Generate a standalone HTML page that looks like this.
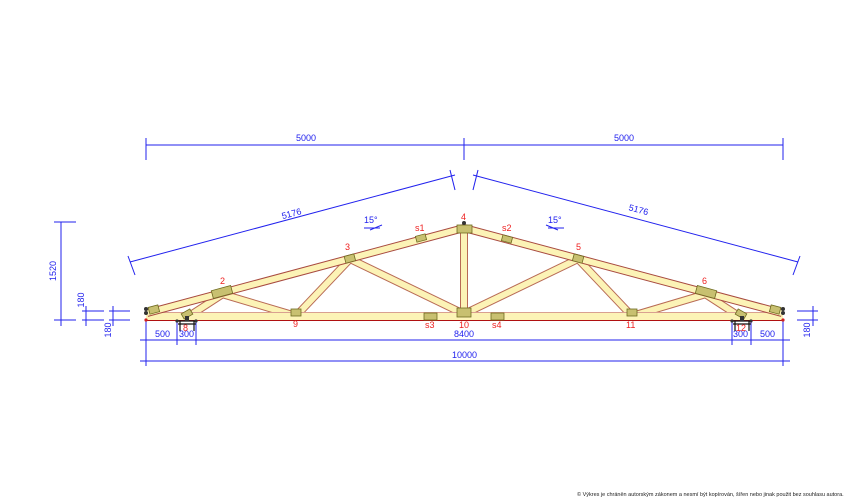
<!DOCTYPE html>
<html><head><meta charset="utf-8"><style>
html,body{margin:0;padding:0;background:#fff;}
svg{display:block;font-family:"Liberation Sans",sans-serif;}
.d{stroke:#2222ee;stroke-width:1;fill:none}
.dt{fill:#2222ee;font-size:9px}
.n{fill:#ee2020;font-size:9px}
</style></head><body>
<svg width="868" height="501" viewBox="0 0 868 501" xmlns="http://www.w3.org/2000/svg">
<g class="d">
<line x1="146" y1="145" x2="783" y2="145"/>
<line x1="146" y1="138" x2="146" y2="160"/>
<line x1="464" y1="138" x2="464" y2="160"/>
<line x1="783" y1="138" x2="783" y2="160"/>
<line x1="130" y1="262" x2="455" y2="175"/>
<line x1="128" y1="256" x2="135" y2="275"/>
<line x1="450" y1="170" x2="455" y2="190"/>
<line x1="473" y1="175" x2="798" y2="262"/>
<line x1="478" y1="170" x2="473" y2="190"/>
<line x1="800" y1="256" x2="793" y2="275"/>
<line x1="61" y1="222" x2="61" y2="326"/>
<line x1="54" y1="222" x2="76" y2="222"/>
<line x1="54" y1="320" x2="76" y2="320"/>
<line x1="86" y1="306" x2="86" y2="326"/>
<line x1="82" y1="311" x2="104" y2="311"/>
<line x1="82" y1="320" x2="104" y2="320"/>
<line x1="113" y1="306" x2="113" y2="326"/>
<line x1="109" y1="311" x2="130" y2="311"/>
<line x1="109" y1="320" x2="130" y2="320"/>
<line x1="813" y1="306" x2="813" y2="326"/>
<line x1="797" y1="311" x2="818" y2="311"/>
<line x1="797" y1="320" x2="818" y2="320"/>
<line x1="140" y1="340" x2="790" y2="340"/>
<line x1="140" y1="361" x2="790" y2="361"/>
<line x1="146" y1="320" x2="146" y2="366"/>
<line x1="783" y1="320" x2="783" y2="366"/>
<line x1="177" y1="320" x2="177" y2="345"/>
<line x1="196" y1="320" x2="196" y2="345"/>
<line x1="732" y1="320" x2="732" y2="345"/>
<line x1="751" y1="320" x2="751" y2="345"/>
<line x1="364" y1="228" x2="380" y2="228"/>
<line x1="370" y1="230" x2="382" y2="225"/>
<line x1="548" y1="228" x2="564" y2="228"/>
<line x1="546" y1="225" x2="558" y2="230"/>
</g>
<g class="dt">
<text x="296" y="141">5000</text>
<text x="614" y="141">5000</text>
<text x="281" y="217" transform="rotate(-15 290 212)">5176</text>
<text x="628" y="213" transform="rotate(15 639 212)">5176</text>
<text x="364" y="223">15°</text>
<text x="548" y="223">15°</text>
<text text-anchor="middle" transform="translate(56 271) rotate(-90)">1520</text>
<text text-anchor="middle" transform="translate(84 300) rotate(-90)">180</text>
<text text-anchor="middle" transform="translate(111 330) rotate(-90)">180</text>
<text text-anchor="middle" transform="translate(810 330) rotate(-90)">180</text>
<text x="155" y="337">500</text>
<text x="179" y="337">300</text>
<text x="454" y="337">8400</text>
<text x="733" y="337">300</text>
<text x="760" y="337">500</text>
<text x="452" y="358">10000</text>
</g>
<g stroke-linecap="butt">
<g stroke="#b86a55" stroke-width="8">
<line x1="296" y1="316" x2="350" y2="259"/>
<line x1="350" y1="259" x2="464" y2="314"/>
<line x1="464" y1="314" x2="578" y2="259"/>
<line x1="578" y1="259" x2="632" y2="316"/>
<line x1="222" y1="294" x2="296" y2="316"/>
<line x1="706" y1="294" x2="632" y2="316"/>
<line x1="186" y1="318" x2="226" y2="292"/>
<line x1="742" y1="318" x2="702" y2="292"/>
<line x1="464" y1="228" x2="464" y2="314"/>
</g>
<g stroke="#fcf3b6" stroke-width="6">
<line x1="296" y1="316" x2="350" y2="259"/>
<line x1="350" y1="259" x2="464" y2="314"/>
<line x1="464" y1="314" x2="578" y2="259"/>
<line x1="578" y1="259" x2="632" y2="316"/>
<line x1="222" y1="294" x2="296" y2="316"/>
<line x1="706" y1="294" x2="632" y2="316"/>
<line x1="186" y1="318" x2="226" y2="292"/>
<line x1="742" y1="318" x2="702" y2="292"/>
<line x1="464" y1="228" x2="464" y2="314"/>
</g>
<rect x="146" y="312" width="637" height="9" fill="#fcf3b6"/>
<line x1="146" y1="312.5" x2="783" y2="312.5" stroke="#d9a090" stroke-width="1"/>
<line x1="146" y1="320.5" x2="783" y2="320.5" stroke="#b01010" stroke-width="1"/>
<line x1="147" y1="313" x2="464" y2="228" stroke="#a84a40" stroke-width="8"/>
<line x1="464" y1="228" x2="782" y2="313" stroke="#a84a40" stroke-width="8"/>
<line x1="147" y1="313" x2="464" y2="228" stroke="#fcf3b6" stroke-width="6"/>
<line x1="464" y1="228" x2="782" y2="313" stroke="#fcf3b6" stroke-width="6"/>
</g>
<g fill="#c8c070" stroke="#6e6a20" stroke-width="0.8">
<rect x="212" y="288" width="20" height="8" transform="rotate(-15 222 292)"/>
<rect x="345" y="255" width="10" height="7" transform="rotate(-15 350 259)"/>
<rect x="416" y="235" width="10" height="6" transform="rotate(-15 421 238)"/>
<rect x="457" y="225" width="15" height="8"/>
<rect x="502" y="236" width="10" height="6" transform="rotate(15 507 239)"/>
<rect x="573" y="255" width="10" height="7" transform="rotate(15 578 259)"/>
<rect x="696" y="288" width="20" height="8" transform="rotate(15 706 292)"/>
<rect x="291" y="309" width="10" height="7"/>
<rect x="457" y="308" width="14" height="9"/>
<rect x="627" y="309" width="10" height="7"/>
<rect x="424" y="313" width="13" height="7"/>
<rect x="491" y="313" width="13" height="7"/>
<rect x="149" y="306" width="10" height="7" transform="rotate(-15 154 310)"/>
<rect x="770" y="306" width="10" height="7" transform="rotate(15 775 310)"/>
<rect x="182" y="311" width="10" height="6" transform="rotate(-30 187 314)"/>
<rect x="736" y="311" width="10" height="6" transform="rotate(30 741 314)"/>
</g>
<g stroke="#111" stroke-width="1.2" fill="none">
<line x1="178" y1="321" x2="196" y2="321"/><line x1="178" y1="324" x2="196" y2="324"/>
<line x1="180" y1="321" x2="180" y2="331"/><line x1="194" y1="321" x2="194" y2="331"/>
<line x1="733" y1="321" x2="751" y2="321"/><line x1="733" y1="324" x2="751" y2="324"/>
<line x1="735" y1="321" x2="735" y2="331"/><line x1="749" y1="321" x2="749" y2="331"/>
</g>
<g fill="#333">
<circle cx="177" cy="321" r="1.6"/><circle cx="196" cy="321" r="1.6"/>
<circle cx="732" cy="321" r="1.6"/><circle cx="751" cy="321" r="1.6"/>
<rect x="185" y="316" width="4" height="5"/><rect x="740" y="316" width="4" height="5"/>
<circle cx="146" cy="309" r="2"/><circle cx="146" cy="313" r="2"/>
<circle cx="783" cy="309" r="2"/><circle cx="783" cy="313" r="2"/>
<circle cx="464" cy="223" r="2"/>
</g>
<circle cx="146" cy="320" r="1.6" fill="#d02020"/><circle cx="783" cy="320" r="1.6" fill="#d02020"/>
<g class="n">
<text x="220" y="284">2</text>
<text x="345" y="250">3</text>
<text x="415" y="231">s1</text>
<text x="461" y="220">4</text>
<text x="502" y="231">s2</text>
<text x="576" y="250">5</text>
<text x="702" y="284">6</text>
<text x="293" y="327">9</text>
<text x="459" y="328">10</text>
<text x="626" y="328">11</text>
<text x="425" y="328">s3</text>
<text x="492" y="328">s4</text>
<text x="183" y="331">8</text>
<text x="736" y="331">12</text>
</g>
<text x="577" y="496" font-size="5.5" fill="#222">© Výkres je chráněn autorským zákonem a nesmí být kopírován, šířen nebo jinak použit bez souhlasu autora.</text>
</svg>
</body></html>
